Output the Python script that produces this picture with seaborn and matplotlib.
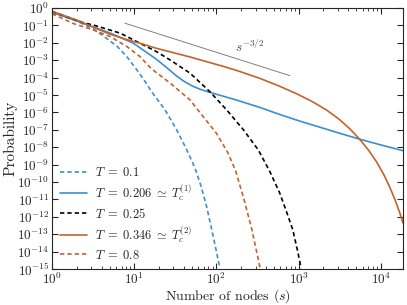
import numpy as np
import pandas as pd
import matplotlib
matplotlib.use("Agg")
import matplotlib.pyplot as plt
import seaborn as sns
from matplotlib.ticker import LogLocator, NullLocator, NullFormatter

sns.set_style("ticks")
plt.rcParams.update({
    "font.family": ["serif"],
    "font.serif": ["cmr10", "DejaVu Serif"],
    "mathtext.fontset": "cm",
    "axes.formatter.use_mathtext": True,
    "axes.unicode_minus": False,
    "font.size": 9,
})

# ---- data (log10 of size s, log10 of probability) ----
t01_logs = [0, 0.3, 0.5, 0.62, 0.79, 0.91, 1.03, 1.15, 1.21, 1.375, 1.517, 1.64, 1.74, 1.81, 1.88, 1.96, 2.04]
t01_logp = [-0.25, -0.75, -1.2, -1.6, -2.2, -2.8, -3.55, -4.35, -4.8, -5.86, -7.01, -8.16, -9.21, -10.2, -11.4, -13.1, -14.9]

t0206_logs = [0, 0.3, 0.71, 0.99, 1.27, 1.4, 1.5, 1.6, 1.7, 1.8, 1.9, 2.0, 2.25, 2.53, 2.77, 3.0, 3.25, 3.5, 3.75, 4.0, 4.27]
t0206_logp = [-0.25, -0.75, -1.45, -2.03, -2.95, -3.45, -3.85, -4.2, -4.47, -4.67, -4.82, -4.96, -5.3, -5.72, -6.12, -6.48, -6.84, -7.2, -7.55, -7.87, -8.2]

t025_logs = [0, 0.38, 0.5, 0.83, 1.07, 1.27, 1.436, 1.68, 1.92, 2.125, 2.33, 2.51, 2.65, 2.77, 2.86, 2.93, 2.99, 3.03]
t025_logp = [-0.2, -0.85, -0.98, -1.45, -2.03, -2.51, -2.99, -3.75, -4.81, -5.86, -7.01, -8.16, -9.4, -10.63, -11.8, -12.76, -14.0, -14.95]

t0346_logs = [0, 0.3, 0.5, 0.7, 0.91, 1.07, 1.27, 1.5, 1.68, 1.92, 2.1, 2.29, 2.53, 2.77, 2.98, 3.175, 3.345, 3.5, 3.625, 3.75, 3.856, 3.95, 4.04, 4.11, 4.17, 4.23, 4.27]
t0346_logp = [-0.2, -0.7, -1.1, -1.5, -1.82, -2.03, -2.32, -2.6, -2.82, -3.14, -3.38, -3.66, -4.05, -4.5, -4.94, -5.4, -5.88, -6.42, -6.95, -7.58, -8.2, -8.85, -9.6, -10.3, -10.98, -11.75, -12.35]

t08_logs = [0, 0.26, 0.5, 0.71, 0.91, 1.07, 1.21, 1.44, 1.68, 1.84, 2.0, 2.14, 2.23, 2.33, 2.43, 2.53]
t08_logp = [-0.34, -0.9, -1.26, -1.65, -2.22, -2.8, -3.5, -4.33, -5.29, -6.25, -7.2, -8.33, -9.31, -10.9, -12.7, -14.9]

ref_s = [7.7, 785.0]          # s^{-3/2} guide
ref_prefactor = 2.83

labels = [r"$T\;=\;0.1$", r"$T\;=\;0.206\;\simeq\;T_c^{(1)}$", r"$T\;=\;0.25$",
          r"$T\;=\;0.346\;\simeq\;T_c^{(2)}$", r"$T\;=\;0.8$"]

BLUE = "#3a8fcf"
ORANGE = "#c4622d"

series = [
    (t01_logs, t01_logp, BLUE, True),
    (t0206_logs, t0206_logp, BLUE, False),
    (t025_logs, t025_logp, "black", True),
    (t0346_logs, t0346_logp, ORANGE, False),
    (t08_logs, t08_logp, ORANGE, True),
]

fig = plt.figure(figsize=(4.07, 3.05), dpi=100)
ax = fig.add_axes([0.128, 0.118, 0.862, 0.856])

for (ls_, lp_, col, dashed), lab in zip(series, labels):
    df = pd.DataFrame({"s": 10.0 ** np.array(ls_), "p": 10.0 ** np.array(lp_)})
    sns.lineplot(data=df, x="s", y="p", ax=ax, color=col, lw=1.2,
                 label=lab, sort=False, estimator=None)
    l = ax.get_lines()[-1]
    if dashed:
        l.set_dashes((2.6, 1.8))

# guide line s^{-3/2}
ref = pd.DataFrame({"s": ref_s, "p": [ref_prefactor * v ** -1.5 for v in ref_s]})
sns.lineplot(data=ref, x="s", y="p", ax=ax, color="0.5", lw=0.7, legend=False)
ax.text(257, 10 ** -2.25, r"$s^{-3/2}$", ha="center", va="center", fontsize=9.5, color="0.3")

ax.set_xscale("log")
ax.set_yscale("log")
ax.set_xlim(1, 10 ** 4.27)
ax.set_ylim(1e-15, 1)
ax.set_yticks([10.0 ** -k for k in range(16)])
ax.yaxis.set_minor_locator(NullLocator())
ax.xaxis.set_major_locator(LogLocator(base=10, numticks=10))
ax.xaxis.set_minor_locator(LogLocator(base=10, subs=np.arange(2, 10), numticks=20))
ax.xaxis.set_minor_formatter(NullFormatter())
ax.tick_params(which="both", direction="in", top=True, right=True, labelsize=9.5, pad=2)
ax.tick_params(which="major", length=4, width=0.8)
ax.tick_params(which="minor", length=2, width=0.6)
for sp in ax.spines.values():
    sp.set_linewidth(0.8)

ax.set_xlabel(r"Number of nodes $(s)$", fontsize=10, va="center")
ax.xaxis.set_label_coords(0.5, -0.103)
ax.set_ylabel("Probability", fontsize=11, labelpad=0)

ax.legend(loc="lower left", frameon=False, fontsize=9, handlelength=2.2,
          handletextpad=0.6, labelspacing=0.3, borderaxespad=0.2)

fig.savefig("out.png", dpi=100)
